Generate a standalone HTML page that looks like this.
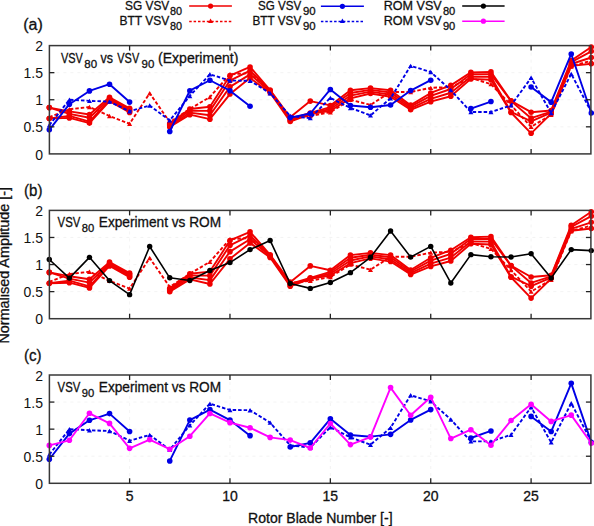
<!DOCTYPE html>
<html><head><meta charset="utf-8"><style>html,body{margin:0;padding:0;background:#fff;width:594px;height:526px;overflow:hidden}svg{display:block;font-family:"Liberation Sans",sans-serif}</style></head>
<body><svg width="594" height="526" viewBox="0 0 594 526" font-family="Liberation Sans, sans-serif" fill="#111">
<rect width="594" height="526" fill="#fff"/>
<line x1="49.4" y1="126.82" x2="590.9" y2="126.82" stroke="#f0f0f0" stroke-width="0.8" stroke-dasharray="3,4"/>
<line x1="49.4" y1="99.75" x2="590.9" y2="99.75" stroke="#f0f0f0" stroke-width="0.8" stroke-dasharray="3,4"/>
<line x1="49.4" y1="72.67" x2="590.9" y2="72.67" stroke="#f0f0f0" stroke-width="0.8" stroke-dasharray="3,4"/>
<line x1="129.60" y1="45.6" x2="129.60" y2="153.9" stroke="#f0f0f0" stroke-width="0.8" stroke-dasharray="3,4"/>
<line x1="229.97" y1="45.6" x2="229.97" y2="153.9" stroke="#f0f0f0" stroke-width="0.8" stroke-dasharray="3,4"/>
<line x1="330.35" y1="45.6" x2="330.35" y2="153.9" stroke="#f0f0f0" stroke-width="0.8" stroke-dasharray="3,4"/>
<line x1="430.73" y1="45.6" x2="430.73" y2="153.9" stroke="#f0f0f0" stroke-width="0.8" stroke-dasharray="3,4"/>
<line x1="531.10" y1="45.6" x2="531.10" y2="153.9" stroke="#f0f0f0" stroke-width="0.8" stroke-dasharray="3,4"/>
<line x1="49.4" y1="291.62" x2="590.9" y2="291.62" stroke="#f0f0f0" stroke-width="0.8" stroke-dasharray="3,4"/>
<line x1="49.4" y1="264.55" x2="590.9" y2="264.55" stroke="#f0f0f0" stroke-width="0.8" stroke-dasharray="3,4"/>
<line x1="49.4" y1="237.47" x2="590.9" y2="237.47" stroke="#f0f0f0" stroke-width="0.8" stroke-dasharray="3,4"/>
<line x1="129.60" y1="210.4" x2="129.60" y2="318.7" stroke="#f0f0f0" stroke-width="0.8" stroke-dasharray="3,4"/>
<line x1="229.97" y1="210.4" x2="229.97" y2="318.7" stroke="#f0f0f0" stroke-width="0.8" stroke-dasharray="3,4"/>
<line x1="330.35" y1="210.4" x2="330.35" y2="318.7" stroke="#f0f0f0" stroke-width="0.8" stroke-dasharray="3,4"/>
<line x1="430.73" y1="210.4" x2="430.73" y2="318.7" stroke="#f0f0f0" stroke-width="0.8" stroke-dasharray="3,4"/>
<line x1="531.10" y1="210.4" x2="531.10" y2="318.7" stroke="#f0f0f0" stroke-width="0.8" stroke-dasharray="3,4"/>
<line x1="49.4" y1="456.23" x2="590.9" y2="456.23" stroke="#f0f0f0" stroke-width="0.8" stroke-dasharray="3,4"/>
<line x1="49.4" y1="429.15" x2="590.9" y2="429.15" stroke="#f0f0f0" stroke-width="0.8" stroke-dasharray="3,4"/>
<line x1="49.4" y1="402.07" x2="590.9" y2="402.07" stroke="#f0f0f0" stroke-width="0.8" stroke-dasharray="3,4"/>
<line x1="129.60" y1="375.0" x2="129.60" y2="483.3" stroke="#f0f0f0" stroke-width="0.8" stroke-dasharray="3,4"/>
<line x1="229.97" y1="375.0" x2="229.97" y2="483.3" stroke="#f0f0f0" stroke-width="0.8" stroke-dasharray="3,4"/>
<line x1="330.35" y1="375.0" x2="330.35" y2="483.3" stroke="#f0f0f0" stroke-width="0.8" stroke-dasharray="3,4"/>
<line x1="430.73" y1="375.0" x2="430.73" y2="483.3" stroke="#f0f0f0" stroke-width="0.8" stroke-dasharray="3,4"/>
<line x1="531.10" y1="375.0" x2="531.10" y2="483.3" stroke="#f0f0f0" stroke-width="0.8" stroke-dasharray="3,4"/>
<path d="M49.30,118.43 L69.38,117.89 L89.45,123.09 L109.52,101.10 L129.60,112.48" fill="none" stroke="#f00000" stroke-width="1.9" stroke-linejoin="round"/>
<path d="M169.75,126.88 L189.82,114.64 L209.90,119.19 L229.97,94.06 L250.05,78.09 L270.12,92.71 L290.20,121.52 L310.27,114.10 L330.35,110.74 L350.43,98.40 L370.50,93.52 L390.57,96.77 L410.65,109.77 L430.73,101.65 L450.80,96.23 L470.88,78.90 L490.95,79.71 L511.02,112.48 L531.10,133.32 L551.17,113.67 L571.25,65.91 L591.32,63.74" fill="none" stroke="#f00000" stroke-width="1.9" stroke-linejoin="round"/>
<circle cx="49.30" cy="118.43" r="2.8" fill="#f00000"/>
<circle cx="69.38" cy="117.89" r="2.8" fill="#f00000"/>
<circle cx="89.45" cy="123.09" r="2.8" fill="#f00000"/>
<circle cx="109.52" cy="101.10" r="2.8" fill="#f00000"/>
<circle cx="129.60" cy="112.48" r="2.8" fill="#f00000"/>
<circle cx="169.75" cy="126.88" r="2.8" fill="#f00000"/>
<circle cx="189.82" cy="114.64" r="2.8" fill="#f00000"/>
<circle cx="209.90" cy="119.19" r="2.8" fill="#f00000"/>
<circle cx="229.97" cy="94.06" r="2.8" fill="#f00000"/>
<circle cx="250.05" cy="78.09" r="2.8" fill="#f00000"/>
<circle cx="270.12" cy="92.71" r="2.8" fill="#f00000"/>
<circle cx="290.20" cy="121.52" r="2.8" fill="#f00000"/>
<circle cx="310.27" cy="114.10" r="2.8" fill="#f00000"/>
<circle cx="330.35" cy="110.74" r="2.8" fill="#f00000"/>
<circle cx="350.43" cy="98.40" r="2.8" fill="#f00000"/>
<circle cx="370.50" cy="93.52" r="2.8" fill="#f00000"/>
<circle cx="390.57" cy="96.77" r="2.8" fill="#f00000"/>
<circle cx="410.65" cy="109.77" r="2.8" fill="#f00000"/>
<circle cx="430.73" cy="101.65" r="2.8" fill="#f00000"/>
<circle cx="450.80" cy="96.23" r="2.8" fill="#f00000"/>
<circle cx="470.88" cy="78.90" r="2.8" fill="#f00000"/>
<circle cx="490.95" cy="79.71" r="2.8" fill="#f00000"/>
<circle cx="511.02" cy="112.48" r="2.8" fill="#f00000"/>
<circle cx="531.10" cy="133.32" r="2.8" fill="#f00000"/>
<circle cx="551.17" cy="113.67" r="2.8" fill="#f00000"/>
<circle cx="571.25" cy="65.91" r="2.8" fill="#f00000"/>
<circle cx="591.32" cy="63.74" r="2.8" fill="#f00000"/>
<path d="M49.30,118.43 L69.38,115.85 L89.45,121.61 L109.52,99.84 L129.60,111.17" fill="none" stroke="#f00000" stroke-width="1.9" stroke-linejoin="round"/>
<path d="M169.75,125.79 L189.82,112.68 L209.90,115.31 L229.97,86.83 L250.05,74.39 L270.12,91.45 L290.20,120.30 L310.27,113.56 L330.35,108.96 L350.43,95.69 L370.50,91.60 L390.57,94.73 L410.65,108.29 L430.73,98.89 L450.80,92.76 L470.88,76.74 L490.95,76.83 L511.02,111.93 L531.10,121.41 L551.17,112.73 L571.25,63.98 L591.32,57.52" fill="none" stroke="#f00000" stroke-width="1.9" stroke-linejoin="round"/>
<circle cx="49.30" cy="118.43" r="2.8" fill="#f00000"/>
<circle cx="69.38" cy="115.85" r="2.8" fill="#f00000"/>
<circle cx="89.45" cy="121.61" r="2.8" fill="#f00000"/>
<circle cx="109.52" cy="99.84" r="2.8" fill="#f00000"/>
<circle cx="129.60" cy="111.17" r="2.8" fill="#f00000"/>
<circle cx="169.75" cy="125.79" r="2.8" fill="#f00000"/>
<circle cx="189.82" cy="112.68" r="2.8" fill="#f00000"/>
<circle cx="209.90" cy="115.31" r="2.8" fill="#f00000"/>
<circle cx="229.97" cy="86.83" r="2.8" fill="#f00000"/>
<circle cx="250.05" cy="74.39" r="2.8" fill="#f00000"/>
<circle cx="270.12" cy="91.45" r="2.8" fill="#f00000"/>
<circle cx="290.20" cy="120.30" r="2.8" fill="#f00000"/>
<circle cx="310.27" cy="113.56" r="2.8" fill="#f00000"/>
<circle cx="330.35" cy="108.96" r="2.8" fill="#f00000"/>
<circle cx="350.43" cy="95.69" r="2.8" fill="#f00000"/>
<circle cx="370.50" cy="91.60" r="2.8" fill="#f00000"/>
<circle cx="390.57" cy="94.73" r="2.8" fill="#f00000"/>
<circle cx="410.65" cy="108.29" r="2.8" fill="#f00000"/>
<circle cx="430.73" cy="98.89" r="2.8" fill="#f00000"/>
<circle cx="450.80" cy="92.76" r="2.8" fill="#f00000"/>
<circle cx="470.88" cy="76.74" r="2.8" fill="#f00000"/>
<circle cx="490.95" cy="76.83" r="2.8" fill="#f00000"/>
<circle cx="511.02" cy="111.93" r="2.8" fill="#f00000"/>
<circle cx="531.10" cy="121.41" r="2.8" fill="#f00000"/>
<circle cx="551.17" cy="112.73" r="2.8" fill="#f00000"/>
<circle cx="571.25" cy="63.98" r="2.8" fill="#f00000"/>
<circle cx="591.32" cy="57.52" r="2.8" fill="#f00000"/>
<path d="M49.30,107.60 L69.38,113.81 L89.45,117.76 L109.52,98.58 L129.60,109.86" fill="none" stroke="#f00000" stroke-width="1.9" stroke-linejoin="round"/>
<path d="M169.75,124.58 L189.82,110.73 L209.90,110.86 L229.97,80.53 L250.05,70.62 L270.12,90.73 L290.20,118.99 L310.27,113.02 L330.35,107.15 L350.43,92.98 L370.50,89.91 L390.57,92.44 L410.65,106.70 L430.73,95.87 L450.80,89.01 L470.88,74.19 L490.95,74.14 L511.02,101.10 L531.10,118.16 L551.17,111.56 L571.25,62.06 L591.32,51.31" fill="none" stroke="#f00000" stroke-width="1.9" stroke-linejoin="round"/>
<circle cx="49.30" cy="107.60" r="2.8" fill="#f00000"/>
<circle cx="69.38" cy="113.81" r="2.8" fill="#f00000"/>
<circle cx="89.45" cy="117.76" r="2.8" fill="#f00000"/>
<circle cx="109.52" cy="98.58" r="2.8" fill="#f00000"/>
<circle cx="129.60" cy="109.86" r="2.8" fill="#f00000"/>
<circle cx="169.75" cy="124.58" r="2.8" fill="#f00000"/>
<circle cx="189.82" cy="110.73" r="2.8" fill="#f00000"/>
<circle cx="209.90" cy="110.86" r="2.8" fill="#f00000"/>
<circle cx="229.97" cy="80.53" r="2.8" fill="#f00000"/>
<circle cx="250.05" cy="70.62" r="2.8" fill="#f00000"/>
<circle cx="270.12" cy="90.73" r="2.8" fill="#f00000"/>
<circle cx="290.20" cy="118.99" r="2.8" fill="#f00000"/>
<circle cx="310.27" cy="113.02" r="2.8" fill="#f00000"/>
<circle cx="330.35" cy="107.15" r="2.8" fill="#f00000"/>
<circle cx="350.43" cy="92.98" r="2.8" fill="#f00000"/>
<circle cx="370.50" cy="89.91" r="2.8" fill="#f00000"/>
<circle cx="390.57" cy="92.44" r="2.8" fill="#f00000"/>
<circle cx="410.65" cy="106.70" r="2.8" fill="#f00000"/>
<circle cx="430.73" cy="95.87" r="2.8" fill="#f00000"/>
<circle cx="450.80" cy="89.01" r="2.8" fill="#f00000"/>
<circle cx="470.88" cy="74.19" r="2.8" fill="#f00000"/>
<circle cx="490.95" cy="74.14" r="2.8" fill="#f00000"/>
<circle cx="511.02" cy="101.10" r="2.8" fill="#f00000"/>
<circle cx="531.10" cy="118.16" r="2.8" fill="#f00000"/>
<circle cx="551.17" cy="111.56" r="2.8" fill="#f00000"/>
<circle cx="571.25" cy="62.06" r="2.8" fill="#f00000"/>
<circle cx="591.32" cy="51.31" r="2.8" fill="#f00000"/>
<path d="M49.30,107.60 L69.38,111.39 L89.45,114.48 L109.52,97.31 L129.60,108.36" fill="none" stroke="#f00000" stroke-width="1.9" stroke-linejoin="round"/>
<path d="M169.75,123.47 L189.82,108.96 L209.90,106.79 L229.97,75.65 L250.05,66.99 L270.12,90.00 L290.20,117.35 L310.27,101.10 L330.35,105.44 L350.43,90.27 L370.50,88.11 L390.57,90.27 L410.65,105.17 L430.73,92.98 L450.80,85.40 L470.88,72.40 L490.95,71.86 L511.02,100.83 L531.10,112.20 L551.17,110.47 L571.25,60.49 L591.32,46.95" fill="none" stroke="#f00000" stroke-width="1.9" stroke-linejoin="round"/>
<circle cx="49.30" cy="107.60" r="2.8" fill="#f00000"/>
<circle cx="69.38" cy="111.39" r="2.8" fill="#f00000"/>
<circle cx="89.45" cy="114.48" r="2.8" fill="#f00000"/>
<circle cx="109.52" cy="97.31" r="2.8" fill="#f00000"/>
<circle cx="129.60" cy="108.36" r="2.8" fill="#f00000"/>
<circle cx="169.75" cy="123.47" r="2.8" fill="#f00000"/>
<circle cx="189.82" cy="108.96" r="2.8" fill="#f00000"/>
<circle cx="209.90" cy="106.79" r="2.8" fill="#f00000"/>
<circle cx="229.97" cy="75.65" r="2.8" fill="#f00000"/>
<circle cx="250.05" cy="66.99" r="2.8" fill="#f00000"/>
<circle cx="270.12" cy="90.00" r="2.8" fill="#f00000"/>
<circle cx="290.20" cy="117.35" r="2.8" fill="#f00000"/>
<circle cx="310.27" cy="101.10" r="2.8" fill="#f00000"/>
<circle cx="330.35" cy="105.44" r="2.8" fill="#f00000"/>
<circle cx="350.43" cy="90.27" r="2.8" fill="#f00000"/>
<circle cx="370.50" cy="88.11" r="2.8" fill="#f00000"/>
<circle cx="390.57" cy="90.27" r="2.8" fill="#f00000"/>
<circle cx="410.65" cy="105.17" r="2.8" fill="#f00000"/>
<circle cx="430.73" cy="92.98" r="2.8" fill="#f00000"/>
<circle cx="450.80" cy="85.40" r="2.8" fill="#f00000"/>
<circle cx="470.88" cy="72.40" r="2.8" fill="#f00000"/>
<circle cx="490.95" cy="71.86" r="2.8" fill="#f00000"/>
<circle cx="511.02" cy="100.83" r="2.8" fill="#f00000"/>
<circle cx="531.10" cy="112.20" r="2.8" fill="#f00000"/>
<circle cx="551.17" cy="110.47" r="2.8" fill="#f00000"/>
<circle cx="571.25" cy="60.49" r="2.8" fill="#f00000"/>
<circle cx="591.32" cy="46.95" r="2.8" fill="#f00000"/>
<path d="M49.30,117.08 L69.38,109.23 L89.45,107.01 L109.52,116.00 L129.60,123.74 L149.68,93.25 L169.75,122.11 L189.82,108.96 L209.90,97.04 L229.97,74.30 L250.05,73.22 L270.12,90.92 L290.20,118.16 L310.27,116.00 L330.35,112.20 L350.43,99.75 L370.50,104.89 L390.57,92.01 L410.65,92.01 L430.73,87.84 L450.80,86.97 L470.88,78.09 L490.95,84.05 L511.02,105.17 L531.10,126.82 L551.17,114.91 L571.25,66.18 L591.32,60.76" fill="none" stroke="#f00000" stroke-width="1.9" stroke-dasharray="3.5,2" stroke-linejoin="round"/>
<path d="M46.80,119.28 L51.80,119.28 L49.30,114.88 Z" fill="#f00000"/>
<path d="M66.88,111.43 L71.88,111.43 L69.38,107.03 Z" fill="#f00000"/>
<path d="M86.95,109.21 L91.95,109.21 L89.45,104.81 Z" fill="#f00000"/>
<path d="M107.02,118.20 L112.02,118.20 L109.52,113.80 Z" fill="#f00000"/>
<path d="M127.10,125.94 L132.10,125.94 L129.60,121.54 Z" fill="#f00000"/>
<path d="M147.18,95.45 L152.18,95.45 L149.68,91.05 Z" fill="#f00000"/>
<path d="M167.25,124.31 L172.25,124.31 L169.75,119.91 Z" fill="#f00000"/>
<path d="M187.32,111.16 L192.32,111.16 L189.82,106.76 Z" fill="#f00000"/>
<path d="M207.40,99.24 L212.40,99.24 L209.90,94.84 Z" fill="#f00000"/>
<path d="M227.47,76.50 L232.47,76.50 L229.97,72.10 Z" fill="#f00000"/>
<path d="M247.55,75.42 L252.55,75.42 L250.05,71.02 Z" fill="#f00000"/>
<path d="M267.62,93.12 L272.62,93.12 L270.12,88.72 Z" fill="#f00000"/>
<path d="M287.70,120.36 L292.70,120.36 L290.20,115.96 Z" fill="#f00000"/>
<path d="M307.77,118.20 L312.77,118.20 L310.27,113.80 Z" fill="#f00000"/>
<path d="M327.85,114.40 L332.85,114.40 L330.35,110.00 Z" fill="#f00000"/>
<path d="M347.93,101.95 L352.93,101.95 L350.43,97.55 Z" fill="#f00000"/>
<path d="M368.00,107.09 L373.00,107.09 L370.50,102.69 Z" fill="#f00000"/>
<path d="M388.07,94.21 L393.07,94.21 L390.57,89.81 Z" fill="#f00000"/>
<path d="M408.15,94.21 L413.15,94.21 L410.65,89.81 Z" fill="#f00000"/>
<path d="M428.23,90.04 L433.23,90.04 L430.73,85.64 Z" fill="#f00000"/>
<path d="M448.30,89.17 L453.30,89.17 L450.80,84.77 Z" fill="#f00000"/>
<path d="M468.38,80.29 L473.38,80.29 L470.88,75.89 Z" fill="#f00000"/>
<path d="M488.45,86.25 L493.45,86.25 L490.95,81.85 Z" fill="#f00000"/>
<path d="M508.52,107.37 L513.52,107.37 L511.02,102.97 Z" fill="#f00000"/>
<path d="M528.60,129.02 L533.60,129.02 L531.10,124.62 Z" fill="#f00000"/>
<path d="M548.67,117.11 L553.67,117.11 L551.17,112.71 Z" fill="#f00000"/>
<path d="M568.75,68.38 L573.75,68.38 L571.25,63.98 Z" fill="#f00000"/>
<path d="M588.82,62.96 L593.82,62.96 L591.32,58.56 Z" fill="#f00000"/>
<path d="M49.30,129.86 L69.38,104.19 L89.45,90.92 L109.52,84.21 L129.60,102.08" fill="none" stroke="#0000e6" stroke-width="1.9" stroke-linejoin="round"/>
<path d="M169.75,131.54 L189.82,90.71 L209.90,80.26 L229.97,90.71 L250.05,106.25" fill="none" stroke="#0000e6" stroke-width="1.9" stroke-linejoin="round"/>
<path d="M290.20,117.62 L310.27,113.50 L330.35,89.46 L350.43,105.54 L370.50,107.28 L390.57,104.95 L410.65,90.54 L430.73,80.20" fill="none" stroke="#0000e6" stroke-width="1.9" stroke-linejoin="round"/>
<path d="M470.88,108.58 L490.95,101.54" fill="none" stroke="#0000e6" stroke-width="1.9" stroke-linejoin="round"/>
<path d="M531.10,87.02 L551.17,102.13 L571.25,53.94 L591.32,112.96" fill="none" stroke="#0000e6" stroke-width="1.9" stroke-linejoin="round"/>
<circle cx="49.30" cy="129.86" r="2.8" fill="#0000e6"/>
<circle cx="69.38" cy="104.19" r="2.8" fill="#0000e6"/>
<circle cx="89.45" cy="90.92" r="2.8" fill="#0000e6"/>
<circle cx="109.52" cy="84.21" r="2.8" fill="#0000e6"/>
<circle cx="129.60" cy="102.08" r="2.8" fill="#0000e6"/>
<circle cx="169.75" cy="131.54" r="2.8" fill="#0000e6"/>
<circle cx="189.82" cy="90.71" r="2.8" fill="#0000e6"/>
<circle cx="209.90" cy="80.26" r="2.8" fill="#0000e6"/>
<circle cx="229.97" cy="90.71" r="2.8" fill="#0000e6"/>
<circle cx="250.05" cy="106.25" r="2.8" fill="#0000e6"/>
<circle cx="290.20" cy="117.62" r="2.8" fill="#0000e6"/>
<circle cx="310.27" cy="113.50" r="2.8" fill="#0000e6"/>
<circle cx="330.35" cy="89.46" r="2.8" fill="#0000e6"/>
<circle cx="350.43" cy="105.54" r="2.8" fill="#0000e6"/>
<circle cx="370.50" cy="107.28" r="2.8" fill="#0000e6"/>
<circle cx="390.57" cy="104.95" r="2.8" fill="#0000e6"/>
<circle cx="410.65" cy="90.54" r="2.8" fill="#0000e6"/>
<circle cx="430.73" cy="80.20" r="2.8" fill="#0000e6"/>
<circle cx="470.88" cy="108.58" r="2.8" fill="#0000e6"/>
<circle cx="490.95" cy="101.54" r="2.8" fill="#0000e6"/>
<circle cx="531.10" cy="87.02" r="2.8" fill="#0000e6"/>
<circle cx="551.17" cy="102.13" r="2.8" fill="#0000e6"/>
<circle cx="571.25" cy="53.94" r="2.8" fill="#0000e6"/>
<circle cx="591.32" cy="112.96" r="2.8" fill="#0000e6"/>
<path d="M49.30,125.20 L69.38,99.75 L89.45,100.83 L109.52,101.65 L129.60,111.28 L149.68,105.54 L169.75,120.33 L189.82,95.96 L209.90,74.30 L229.97,80.58 L250.05,80.80 L270.12,93.25 L290.20,116.00 L310.27,118.16 L330.35,97.85 L350.43,107.98 L370.50,115.35 L390.57,98.34 L410.65,65.85 L430.73,71.97 L450.80,90.11 L470.88,111.99 L490.95,111.99 L511.02,105.38 L531.10,77.82 L551.17,112.96 L571.25,73.87 L591.32,111.99" fill="none" stroke="#0000e6" stroke-width="1.9" stroke-dasharray="3.5,2" stroke-linejoin="round"/>
<path d="M46.80,127.40 L51.80,127.40 L49.30,123.00 Z" fill="#0000e6"/>
<path d="M66.88,101.95 L71.88,101.95 L69.38,97.55 Z" fill="#0000e6"/>
<path d="M86.95,103.03 L91.95,103.03 L89.45,98.63 Z" fill="#0000e6"/>
<path d="M107.02,103.85 L112.02,103.85 L109.52,99.45 Z" fill="#0000e6"/>
<path d="M127.10,113.48 L132.10,113.48 L129.60,109.08 Z" fill="#0000e6"/>
<path d="M147.18,107.74 L152.18,107.74 L149.68,103.34 Z" fill="#0000e6"/>
<path d="M167.25,122.53 L172.25,122.53 L169.75,118.13 Z" fill="#0000e6"/>
<path d="M187.32,98.16 L192.32,98.16 L189.82,93.76 Z" fill="#0000e6"/>
<path d="M207.40,76.50 L212.40,76.50 L209.90,72.10 Z" fill="#0000e6"/>
<path d="M227.47,82.78 L232.47,82.78 L229.97,78.38 Z" fill="#0000e6"/>
<path d="M247.55,83.00 L252.55,83.00 L250.05,78.60 Z" fill="#0000e6"/>
<path d="M267.62,95.45 L272.62,95.45 L270.12,91.05 Z" fill="#0000e6"/>
<path d="M287.70,118.20 L292.70,118.20 L290.20,113.80 Z" fill="#0000e6"/>
<path d="M307.77,120.36 L312.77,120.36 L310.27,115.96 Z" fill="#0000e6"/>
<path d="M327.85,100.05 L332.85,100.05 L330.35,95.65 Z" fill="#0000e6"/>
<path d="M347.93,110.18 L352.93,110.18 L350.43,105.78 Z" fill="#0000e6"/>
<path d="M368.00,117.55 L373.00,117.55 L370.50,113.15 Z" fill="#0000e6"/>
<path d="M388.07,100.54 L393.07,100.54 L390.57,96.14 Z" fill="#0000e6"/>
<path d="M408.15,68.05 L413.15,68.05 L410.65,63.65 Z" fill="#0000e6"/>
<path d="M428.23,74.17 L433.23,74.17 L430.73,69.77 Z" fill="#0000e6"/>
<path d="M448.30,92.31 L453.30,92.31 L450.80,87.91 Z" fill="#0000e6"/>
<path d="M468.38,114.19 L473.38,114.19 L470.88,109.79 Z" fill="#0000e6"/>
<path d="M488.45,114.19 L493.45,114.19 L490.95,109.79 Z" fill="#0000e6"/>
<path d="M508.52,107.58 L513.52,107.58 L511.02,103.18 Z" fill="#0000e6"/>
<path d="M528.60,80.02 L533.60,80.02 L531.10,75.62 Z" fill="#0000e6"/>
<path d="M548.67,115.16 L553.67,115.16 L551.17,110.76 Z" fill="#0000e6"/>
<path d="M568.75,76.07 L573.75,76.07 L571.25,71.67 Z" fill="#0000e6"/>
<path d="M588.82,114.19 L593.82,114.19 L591.32,109.79 Z" fill="#0000e6"/>
<path d="M49.30,283.23 L69.38,282.69 L89.45,287.89 L109.52,265.90 L129.60,277.28" fill="none" stroke="#f00000" stroke-width="1.9" stroke-linejoin="round"/>
<path d="M169.75,291.68 L189.82,279.44 L209.90,283.99 L229.97,258.86 L250.05,242.89 L270.12,257.51 L290.20,286.32 L310.27,278.90 L330.35,275.54 L350.43,263.20 L370.50,258.32 L390.57,261.57 L410.65,274.57 L430.73,266.45 L450.80,261.03 L470.88,243.70 L490.95,244.51 L511.02,277.28 L531.10,298.12 L551.17,278.47 L571.25,230.71 L591.32,228.54" fill="none" stroke="#f00000" stroke-width="1.9" stroke-linejoin="round"/>
<circle cx="49.30" cy="283.23" r="2.8" fill="#f00000"/>
<circle cx="69.38" cy="282.69" r="2.8" fill="#f00000"/>
<circle cx="89.45" cy="287.89" r="2.8" fill="#f00000"/>
<circle cx="109.52" cy="265.90" r="2.8" fill="#f00000"/>
<circle cx="129.60" cy="277.28" r="2.8" fill="#f00000"/>
<circle cx="169.75" cy="291.68" r="2.8" fill="#f00000"/>
<circle cx="189.82" cy="279.44" r="2.8" fill="#f00000"/>
<circle cx="209.90" cy="283.99" r="2.8" fill="#f00000"/>
<circle cx="229.97" cy="258.86" r="2.8" fill="#f00000"/>
<circle cx="250.05" cy="242.89" r="2.8" fill="#f00000"/>
<circle cx="270.12" cy="257.51" r="2.8" fill="#f00000"/>
<circle cx="290.20" cy="286.32" r="2.8" fill="#f00000"/>
<circle cx="310.27" cy="278.90" r="2.8" fill="#f00000"/>
<circle cx="330.35" cy="275.54" r="2.8" fill="#f00000"/>
<circle cx="350.43" cy="263.20" r="2.8" fill="#f00000"/>
<circle cx="370.50" cy="258.32" r="2.8" fill="#f00000"/>
<circle cx="390.57" cy="261.57" r="2.8" fill="#f00000"/>
<circle cx="410.65" cy="274.57" r="2.8" fill="#f00000"/>
<circle cx="430.73" cy="266.45" r="2.8" fill="#f00000"/>
<circle cx="450.80" cy="261.03" r="2.8" fill="#f00000"/>
<circle cx="470.88" cy="243.70" r="2.8" fill="#f00000"/>
<circle cx="490.95" cy="244.51" r="2.8" fill="#f00000"/>
<circle cx="511.02" cy="277.28" r="2.8" fill="#f00000"/>
<circle cx="531.10" cy="298.12" r="2.8" fill="#f00000"/>
<circle cx="551.17" cy="278.47" r="2.8" fill="#f00000"/>
<circle cx="571.25" cy="230.71" r="2.8" fill="#f00000"/>
<circle cx="591.32" cy="228.54" r="2.8" fill="#f00000"/>
<path d="M49.30,283.23 L69.38,280.65 L89.45,286.41 L109.52,264.64 L129.60,275.97" fill="none" stroke="#f00000" stroke-width="1.9" stroke-linejoin="round"/>
<path d="M169.75,290.59 L189.82,277.48 L209.90,280.11 L229.97,251.63 L250.05,239.19 L270.12,256.25 L290.20,285.10 L310.27,278.36 L330.35,273.76 L350.43,260.49 L370.50,256.40 L390.57,259.53 L410.65,273.09 L430.73,263.69 L450.80,257.56 L470.88,241.54 L490.95,241.63 L511.02,276.73 L531.10,286.21 L551.17,277.53 L571.25,228.78 L591.32,222.32" fill="none" stroke="#f00000" stroke-width="1.9" stroke-linejoin="round"/>
<circle cx="49.30" cy="283.23" r="2.8" fill="#f00000"/>
<circle cx="69.38" cy="280.65" r="2.8" fill="#f00000"/>
<circle cx="89.45" cy="286.41" r="2.8" fill="#f00000"/>
<circle cx="109.52" cy="264.64" r="2.8" fill="#f00000"/>
<circle cx="129.60" cy="275.97" r="2.8" fill="#f00000"/>
<circle cx="169.75" cy="290.59" r="2.8" fill="#f00000"/>
<circle cx="189.82" cy="277.48" r="2.8" fill="#f00000"/>
<circle cx="209.90" cy="280.11" r="2.8" fill="#f00000"/>
<circle cx="229.97" cy="251.63" r="2.8" fill="#f00000"/>
<circle cx="250.05" cy="239.19" r="2.8" fill="#f00000"/>
<circle cx="270.12" cy="256.25" r="2.8" fill="#f00000"/>
<circle cx="290.20" cy="285.10" r="2.8" fill="#f00000"/>
<circle cx="310.27" cy="278.36" r="2.8" fill="#f00000"/>
<circle cx="330.35" cy="273.76" r="2.8" fill="#f00000"/>
<circle cx="350.43" cy="260.49" r="2.8" fill="#f00000"/>
<circle cx="370.50" cy="256.40" r="2.8" fill="#f00000"/>
<circle cx="390.57" cy="259.53" r="2.8" fill="#f00000"/>
<circle cx="410.65" cy="273.09" r="2.8" fill="#f00000"/>
<circle cx="430.73" cy="263.69" r="2.8" fill="#f00000"/>
<circle cx="450.80" cy="257.56" r="2.8" fill="#f00000"/>
<circle cx="470.88" cy="241.54" r="2.8" fill="#f00000"/>
<circle cx="490.95" cy="241.63" r="2.8" fill="#f00000"/>
<circle cx="511.02" cy="276.73" r="2.8" fill="#f00000"/>
<circle cx="531.10" cy="286.21" r="2.8" fill="#f00000"/>
<circle cx="551.17" cy="277.53" r="2.8" fill="#f00000"/>
<circle cx="571.25" cy="228.78" r="2.8" fill="#f00000"/>
<circle cx="591.32" cy="222.32" r="2.8" fill="#f00000"/>
<path d="M49.30,272.40 L69.38,278.61 L89.45,282.56 L109.52,263.38 L129.60,274.66" fill="none" stroke="#f00000" stroke-width="1.9" stroke-linejoin="round"/>
<path d="M169.75,289.38 L189.82,275.53 L209.90,275.66 L229.97,245.33 L250.05,235.42 L270.12,255.53 L290.20,283.79 L310.27,277.82 L330.35,271.95 L350.43,257.78 L370.50,254.71 L390.57,257.24 L410.65,271.50 L430.73,260.67 L450.80,253.81 L470.88,238.99 L490.95,238.94 L511.02,265.90 L531.10,282.96 L551.17,276.36 L571.25,226.86 L591.32,216.11" fill="none" stroke="#f00000" stroke-width="1.9" stroke-linejoin="round"/>
<circle cx="49.30" cy="272.40" r="2.8" fill="#f00000"/>
<circle cx="69.38" cy="278.61" r="2.8" fill="#f00000"/>
<circle cx="89.45" cy="282.56" r="2.8" fill="#f00000"/>
<circle cx="109.52" cy="263.38" r="2.8" fill="#f00000"/>
<circle cx="129.60" cy="274.66" r="2.8" fill="#f00000"/>
<circle cx="169.75" cy="289.38" r="2.8" fill="#f00000"/>
<circle cx="189.82" cy="275.53" r="2.8" fill="#f00000"/>
<circle cx="209.90" cy="275.66" r="2.8" fill="#f00000"/>
<circle cx="229.97" cy="245.33" r="2.8" fill="#f00000"/>
<circle cx="250.05" cy="235.42" r="2.8" fill="#f00000"/>
<circle cx="270.12" cy="255.53" r="2.8" fill="#f00000"/>
<circle cx="290.20" cy="283.79" r="2.8" fill="#f00000"/>
<circle cx="310.27" cy="277.82" r="2.8" fill="#f00000"/>
<circle cx="330.35" cy="271.95" r="2.8" fill="#f00000"/>
<circle cx="350.43" cy="257.78" r="2.8" fill="#f00000"/>
<circle cx="370.50" cy="254.71" r="2.8" fill="#f00000"/>
<circle cx="390.57" cy="257.24" r="2.8" fill="#f00000"/>
<circle cx="410.65" cy="271.50" r="2.8" fill="#f00000"/>
<circle cx="430.73" cy="260.67" r="2.8" fill="#f00000"/>
<circle cx="450.80" cy="253.81" r="2.8" fill="#f00000"/>
<circle cx="470.88" cy="238.99" r="2.8" fill="#f00000"/>
<circle cx="490.95" cy="238.94" r="2.8" fill="#f00000"/>
<circle cx="511.02" cy="265.90" r="2.8" fill="#f00000"/>
<circle cx="531.10" cy="282.96" r="2.8" fill="#f00000"/>
<circle cx="551.17" cy="276.36" r="2.8" fill="#f00000"/>
<circle cx="571.25" cy="226.86" r="2.8" fill="#f00000"/>
<circle cx="591.32" cy="216.11" r="2.8" fill="#f00000"/>
<path d="M49.30,272.40 L69.38,276.19 L89.45,279.28 L109.52,262.11 L129.60,273.16" fill="none" stroke="#f00000" stroke-width="1.9" stroke-linejoin="round"/>
<path d="M169.75,288.27 L189.82,273.76 L209.90,271.59 L229.97,240.45 L250.05,231.79 L270.12,254.80 L290.20,282.15 L310.27,265.90 L330.35,270.24 L350.43,255.07 L370.50,252.91 L390.57,255.07 L410.65,269.97 L430.73,257.78 L450.80,250.20 L470.88,237.20 L490.95,236.66 L511.02,265.63 L531.10,277.00 L551.17,275.27 L571.25,225.29 L591.32,211.75" fill="none" stroke="#f00000" stroke-width="1.9" stroke-linejoin="round"/>
<circle cx="49.30" cy="272.40" r="2.8" fill="#f00000"/>
<circle cx="69.38" cy="276.19" r="2.8" fill="#f00000"/>
<circle cx="89.45" cy="279.28" r="2.8" fill="#f00000"/>
<circle cx="109.52" cy="262.11" r="2.8" fill="#f00000"/>
<circle cx="129.60" cy="273.16" r="2.8" fill="#f00000"/>
<circle cx="169.75" cy="288.27" r="2.8" fill="#f00000"/>
<circle cx="189.82" cy="273.76" r="2.8" fill="#f00000"/>
<circle cx="209.90" cy="271.59" r="2.8" fill="#f00000"/>
<circle cx="229.97" cy="240.45" r="2.8" fill="#f00000"/>
<circle cx="250.05" cy="231.79" r="2.8" fill="#f00000"/>
<circle cx="270.12" cy="254.80" r="2.8" fill="#f00000"/>
<circle cx="290.20" cy="282.15" r="2.8" fill="#f00000"/>
<circle cx="310.27" cy="265.90" r="2.8" fill="#f00000"/>
<circle cx="330.35" cy="270.24" r="2.8" fill="#f00000"/>
<circle cx="350.43" cy="255.07" r="2.8" fill="#f00000"/>
<circle cx="370.50" cy="252.91" r="2.8" fill="#f00000"/>
<circle cx="390.57" cy="255.07" r="2.8" fill="#f00000"/>
<circle cx="410.65" cy="269.97" r="2.8" fill="#f00000"/>
<circle cx="430.73" cy="257.78" r="2.8" fill="#f00000"/>
<circle cx="450.80" cy="250.20" r="2.8" fill="#f00000"/>
<circle cx="470.88" cy="237.20" r="2.8" fill="#f00000"/>
<circle cx="490.95" cy="236.66" r="2.8" fill="#f00000"/>
<circle cx="511.02" cy="265.63" r="2.8" fill="#f00000"/>
<circle cx="531.10" cy="277.00" r="2.8" fill="#f00000"/>
<circle cx="551.17" cy="275.27" r="2.8" fill="#f00000"/>
<circle cx="571.25" cy="225.29" r="2.8" fill="#f00000"/>
<circle cx="591.32" cy="211.75" r="2.8" fill="#f00000"/>
<path d="M49.30,281.88 L69.38,274.03 L89.45,271.81 L109.52,280.80 L129.60,288.54 L149.68,258.05 L169.75,286.91 L189.82,273.76 L209.90,261.84 L229.97,239.10 L250.05,238.02 L270.12,255.72 L290.20,282.96 L310.27,280.80 L330.35,277.00 L350.43,264.55 L370.50,269.69 L390.57,256.81 L410.65,256.81 L430.73,252.64 L450.80,251.77 L470.88,242.89 L490.95,248.85 L511.02,269.97 L531.10,291.62 L551.17,279.71 L571.25,230.98 L591.32,225.56" fill="none" stroke="#f00000" stroke-width="1.9" stroke-dasharray="3.5,2" stroke-linejoin="round"/>
<path d="M46.80,284.08 L51.80,284.08 L49.30,279.68 Z" fill="#f00000"/>
<path d="M66.88,276.23 L71.88,276.23 L69.38,271.83 Z" fill="#f00000"/>
<path d="M86.95,274.01 L91.95,274.01 L89.45,269.61 Z" fill="#f00000"/>
<path d="M107.02,283.00 L112.02,283.00 L109.52,278.60 Z" fill="#f00000"/>
<path d="M127.10,290.74 L132.10,290.74 L129.60,286.34 Z" fill="#f00000"/>
<path d="M147.18,260.25 L152.18,260.25 L149.68,255.85 Z" fill="#f00000"/>
<path d="M167.25,289.11 L172.25,289.11 L169.75,284.71 Z" fill="#f00000"/>
<path d="M187.32,275.96 L192.32,275.96 L189.82,271.56 Z" fill="#f00000"/>
<path d="M207.40,264.04 L212.40,264.04 L209.90,259.64 Z" fill="#f00000"/>
<path d="M227.47,241.30 L232.47,241.30 L229.97,236.90 Z" fill="#f00000"/>
<path d="M247.55,240.22 L252.55,240.22 L250.05,235.82 Z" fill="#f00000"/>
<path d="M267.62,257.92 L272.62,257.92 L270.12,253.52 Z" fill="#f00000"/>
<path d="M287.70,285.16 L292.70,285.16 L290.20,280.76 Z" fill="#f00000"/>
<path d="M307.77,283.00 L312.77,283.00 L310.27,278.60 Z" fill="#f00000"/>
<path d="M327.85,279.20 L332.85,279.20 L330.35,274.80 Z" fill="#f00000"/>
<path d="M347.93,266.75 L352.93,266.75 L350.43,262.35 Z" fill="#f00000"/>
<path d="M368.00,271.89 L373.00,271.89 L370.50,267.49 Z" fill="#f00000"/>
<path d="M388.07,259.01 L393.07,259.01 L390.57,254.61 Z" fill="#f00000"/>
<path d="M408.15,259.01 L413.15,259.01 L410.65,254.61 Z" fill="#f00000"/>
<path d="M428.23,254.84 L433.23,254.84 L430.73,250.44 Z" fill="#f00000"/>
<path d="M448.30,253.97 L453.30,253.97 L450.80,249.57 Z" fill="#f00000"/>
<path d="M468.38,245.09 L473.38,245.09 L470.88,240.69 Z" fill="#f00000"/>
<path d="M488.45,251.05 L493.45,251.05 L490.95,246.65 Z" fill="#f00000"/>
<path d="M508.52,272.17 L513.52,272.17 L511.02,267.77 Z" fill="#f00000"/>
<path d="M528.60,293.82 L533.60,293.82 L531.10,289.43 Z" fill="#f00000"/>
<path d="M548.67,281.91 L553.67,281.91 L551.17,277.51 Z" fill="#f00000"/>
<path d="M568.75,233.18 L573.75,233.18 L571.25,228.78 Z" fill="#f00000"/>
<path d="M588.82,227.76 L593.82,227.76 L591.32,223.36 Z" fill="#f00000"/>
<path d="M49.30,259.51 L69.38,278.09 L89.45,257.35 L109.52,280.58 L129.60,294.66 L149.68,246.52 L169.75,277.82 L189.82,280.52 L209.90,270.51 L229.97,262.60 L250.05,249.60 L270.12,240.45 L290.20,283.50 L310.27,288.38 L330.35,282.53 L350.43,272.67 L370.50,257.29 L390.57,230.98 L410.65,257.08 L430.73,246.41 L450.80,282.96 L470.88,254.64 L490.95,256.70 L511.02,256.97 L531.10,253.72 L551.17,278.09 L571.25,249.60 L591.32,250.58" fill="none" stroke="#000000" stroke-width="1.6" stroke-linejoin="round"/>
<circle cx="49.30" cy="259.51" r="2.7" fill="#000000"/>
<circle cx="69.38" cy="278.09" r="2.7" fill="#000000"/>
<circle cx="89.45" cy="257.35" r="2.7" fill="#000000"/>
<circle cx="109.52" cy="280.58" r="2.7" fill="#000000"/>
<circle cx="129.60" cy="294.66" r="2.7" fill="#000000"/>
<circle cx="149.68" cy="246.52" r="2.7" fill="#000000"/>
<circle cx="169.75" cy="277.82" r="2.7" fill="#000000"/>
<circle cx="189.82" cy="280.52" r="2.7" fill="#000000"/>
<circle cx="209.90" cy="270.51" r="2.7" fill="#000000"/>
<circle cx="229.97" cy="262.60" r="2.7" fill="#000000"/>
<circle cx="250.05" cy="249.60" r="2.7" fill="#000000"/>
<circle cx="270.12" cy="240.45" r="2.7" fill="#000000"/>
<circle cx="290.20" cy="283.50" r="2.7" fill="#000000"/>
<circle cx="310.27" cy="288.38" r="2.7" fill="#000000"/>
<circle cx="330.35" cy="282.53" r="2.7" fill="#000000"/>
<circle cx="350.43" cy="272.67" r="2.7" fill="#000000"/>
<circle cx="370.50" cy="257.29" r="2.7" fill="#000000"/>
<circle cx="390.57" cy="230.98" r="2.7" fill="#000000"/>
<circle cx="410.65" cy="257.08" r="2.7" fill="#000000"/>
<circle cx="430.73" cy="246.41" r="2.7" fill="#000000"/>
<circle cx="450.80" cy="282.96" r="2.7" fill="#000000"/>
<circle cx="470.88" cy="254.64" r="2.7" fill="#000000"/>
<circle cx="490.95" cy="256.70" r="2.7" fill="#000000"/>
<circle cx="511.02" cy="256.97" r="2.7" fill="#000000"/>
<circle cx="531.10" cy="253.72" r="2.7" fill="#000000"/>
<circle cx="551.17" cy="278.09" r="2.7" fill="#000000"/>
<circle cx="571.25" cy="249.60" r="2.7" fill="#000000"/>
<circle cx="591.32" cy="250.58" r="2.7" fill="#000000"/>
<path d="M49.30,459.26 L69.38,433.59 L89.45,420.32 L109.52,413.61 L129.60,431.48" fill="none" stroke="#0000e6" stroke-width="1.9" stroke-linejoin="round"/>
<path d="M169.75,460.94 L189.82,420.11 L209.90,409.66 L229.97,420.11 L250.05,435.65" fill="none" stroke="#0000e6" stroke-width="1.9" stroke-linejoin="round"/>
<path d="M290.20,447.02 L310.27,442.90 L330.35,418.86 L350.43,434.94 L370.50,436.68 L390.57,434.35 L410.65,419.94 L430.73,409.60" fill="none" stroke="#0000e6" stroke-width="1.9" stroke-linejoin="round"/>
<path d="M470.88,437.98 L490.95,430.94" fill="none" stroke="#0000e6" stroke-width="1.9" stroke-linejoin="round"/>
<path d="M531.10,416.42 L551.17,431.53 L571.25,383.34 L591.32,442.36" fill="none" stroke="#0000e6" stroke-width="1.9" stroke-linejoin="round"/>
<circle cx="49.30" cy="459.26" r="2.8" fill="#0000e6"/>
<circle cx="69.38" cy="433.59" r="2.8" fill="#0000e6"/>
<circle cx="89.45" cy="420.32" r="2.8" fill="#0000e6"/>
<circle cx="109.52" cy="413.61" r="2.8" fill="#0000e6"/>
<circle cx="129.60" cy="431.48" r="2.8" fill="#0000e6"/>
<circle cx="169.75" cy="460.94" r="2.8" fill="#0000e6"/>
<circle cx="189.82" cy="420.11" r="2.8" fill="#0000e6"/>
<circle cx="209.90" cy="409.66" r="2.8" fill="#0000e6"/>
<circle cx="229.97" cy="420.11" r="2.8" fill="#0000e6"/>
<circle cx="250.05" cy="435.65" r="2.8" fill="#0000e6"/>
<circle cx="290.20" cy="447.02" r="2.8" fill="#0000e6"/>
<circle cx="310.27" cy="442.90" r="2.8" fill="#0000e6"/>
<circle cx="330.35" cy="418.86" r="2.8" fill="#0000e6"/>
<circle cx="350.43" cy="434.94" r="2.8" fill="#0000e6"/>
<circle cx="370.50" cy="436.68" r="2.8" fill="#0000e6"/>
<circle cx="390.57" cy="434.35" r="2.8" fill="#0000e6"/>
<circle cx="410.65" cy="419.94" r="2.8" fill="#0000e6"/>
<circle cx="430.73" cy="409.60" r="2.8" fill="#0000e6"/>
<circle cx="470.88" cy="437.98" r="2.8" fill="#0000e6"/>
<circle cx="490.95" cy="430.94" r="2.8" fill="#0000e6"/>
<circle cx="531.10" cy="416.42" r="2.8" fill="#0000e6"/>
<circle cx="551.17" cy="431.53" r="2.8" fill="#0000e6"/>
<circle cx="571.25" cy="383.34" r="2.8" fill="#0000e6"/>
<circle cx="591.32" cy="442.36" r="2.8" fill="#0000e6"/>
<path d="M49.30,454.60 L69.38,429.15 L89.45,430.23 L109.52,431.05 L129.60,440.68 L149.68,434.94 L169.75,449.73 L189.82,425.36 L209.90,403.70 L229.97,409.98 L250.05,410.20 L270.12,422.65 L290.20,445.39 L310.27,447.56 L330.35,427.25 L350.43,437.38 L370.50,444.75 L390.57,427.74 L410.65,395.25 L430.73,401.37 L450.80,419.51 L470.88,441.39 L490.95,441.39 L511.02,434.78 L531.10,407.22 L551.17,442.36 L571.25,403.27 L591.32,441.39" fill="none" stroke="#0000e6" stroke-width="1.9" stroke-dasharray="3.5,2" stroke-linejoin="round"/>
<path d="M46.80,456.80 L51.80,456.80 L49.30,452.40 Z" fill="#0000e6"/>
<path d="M66.88,431.35 L71.88,431.35 L69.38,426.95 Z" fill="#0000e6"/>
<path d="M86.95,432.43 L91.95,432.43 L89.45,428.03 Z" fill="#0000e6"/>
<path d="M107.02,433.25 L112.02,433.25 L109.52,428.85 Z" fill="#0000e6"/>
<path d="M127.10,442.88 L132.10,442.88 L129.60,438.48 Z" fill="#0000e6"/>
<path d="M147.18,437.14 L152.18,437.14 L149.68,432.74 Z" fill="#0000e6"/>
<path d="M167.25,451.93 L172.25,451.93 L169.75,447.53 Z" fill="#0000e6"/>
<path d="M187.32,427.56 L192.32,427.56 L189.82,423.16 Z" fill="#0000e6"/>
<path d="M207.40,405.90 L212.40,405.90 L209.90,401.50 Z" fill="#0000e6"/>
<path d="M227.47,412.18 L232.47,412.18 L229.97,407.78 Z" fill="#0000e6"/>
<path d="M247.55,412.40 L252.55,412.40 L250.05,408.00 Z" fill="#0000e6"/>
<path d="M267.62,424.85 L272.62,424.85 L270.12,420.45 Z" fill="#0000e6"/>
<path d="M287.70,447.59 L292.70,447.59 L290.20,443.19 Z" fill="#0000e6"/>
<path d="M307.77,449.76 L312.77,449.76 L310.27,445.36 Z" fill="#0000e6"/>
<path d="M327.85,429.45 L332.85,429.45 L330.35,425.05 Z" fill="#0000e6"/>
<path d="M347.93,439.58 L352.93,439.58 L350.43,435.18 Z" fill="#0000e6"/>
<path d="M368.00,446.95 L373.00,446.95 L370.50,442.55 Z" fill="#0000e6"/>
<path d="M388.07,429.94 L393.07,429.94 L390.57,425.54 Z" fill="#0000e6"/>
<path d="M408.15,397.45 L413.15,397.45 L410.65,393.05 Z" fill="#0000e6"/>
<path d="M428.23,403.57 L433.23,403.57 L430.73,399.17 Z" fill="#0000e6"/>
<path d="M448.30,421.71 L453.30,421.71 L450.80,417.31 Z" fill="#0000e6"/>
<path d="M468.38,443.59 L473.38,443.59 L470.88,439.19 Z" fill="#0000e6"/>
<path d="M488.45,443.59 L493.45,443.59 L490.95,439.19 Z" fill="#0000e6"/>
<path d="M508.52,436.98 L513.52,436.98 L511.02,432.58 Z" fill="#0000e6"/>
<path d="M528.60,409.42 L533.60,409.42 L531.10,405.02 Z" fill="#0000e6"/>
<path d="M548.67,444.56 L553.67,444.56 L551.17,440.16 Z" fill="#0000e6"/>
<path d="M568.75,405.47 L573.75,405.47 L571.25,401.07 Z" fill="#0000e6"/>
<path d="M588.82,443.59 L593.82,443.59 L591.32,439.19 Z" fill="#0000e6"/>
<path d="M49.30,445.39 L69.38,440.30 L89.45,413.28 L109.52,423.41 L129.60,448.37 L149.68,439.60 L169.75,449.19 L189.82,436.19 L209.90,413.45 L229.97,422.65 L250.05,427.74 L270.12,437.38 L290.20,440.09 L310.27,447.99 L330.35,423.52 L350.43,444.58 L370.50,437.11 L390.57,387.62 L410.65,415.29 L430.73,397.20 L450.80,438.57 L470.88,429.69 L490.95,445.18 L511.02,420.43 L531.10,404.30 L551.17,421.41 L571.25,415.13 L591.32,443.28" fill="none" stroke="#ff00ff" stroke-width="1.9" stroke-linejoin="round"/>
<circle cx="49.30" cy="445.39" r="2.8" fill="#ff00ff"/>
<circle cx="69.38" cy="440.30" r="2.8" fill="#ff00ff"/>
<circle cx="89.45" cy="413.28" r="2.8" fill="#ff00ff"/>
<circle cx="109.52" cy="423.41" r="2.8" fill="#ff00ff"/>
<circle cx="129.60" cy="448.37" r="2.8" fill="#ff00ff"/>
<circle cx="149.68" cy="439.60" r="2.8" fill="#ff00ff"/>
<circle cx="169.75" cy="449.19" r="2.8" fill="#ff00ff"/>
<circle cx="189.82" cy="436.19" r="2.8" fill="#ff00ff"/>
<circle cx="209.90" cy="413.45" r="2.8" fill="#ff00ff"/>
<circle cx="229.97" cy="422.65" r="2.8" fill="#ff00ff"/>
<circle cx="250.05" cy="427.74" r="2.8" fill="#ff00ff"/>
<circle cx="270.12" cy="437.38" r="2.8" fill="#ff00ff"/>
<circle cx="290.20" cy="440.09" r="2.8" fill="#ff00ff"/>
<circle cx="310.27" cy="447.99" r="2.8" fill="#ff00ff"/>
<circle cx="330.35" cy="423.52" r="2.8" fill="#ff00ff"/>
<circle cx="350.43" cy="444.58" r="2.8" fill="#ff00ff"/>
<circle cx="370.50" cy="437.11" r="2.8" fill="#ff00ff"/>
<circle cx="390.57" cy="387.62" r="2.8" fill="#ff00ff"/>
<circle cx="410.65" cy="415.29" r="2.8" fill="#ff00ff"/>
<circle cx="430.73" cy="397.20" r="2.8" fill="#ff00ff"/>
<circle cx="450.80" cy="438.57" r="2.8" fill="#ff00ff"/>
<circle cx="470.88" cy="429.69" r="2.8" fill="#ff00ff"/>
<circle cx="490.95" cy="445.18" r="2.8" fill="#ff00ff"/>
<circle cx="511.02" cy="420.43" r="2.8" fill="#ff00ff"/>
<circle cx="531.10" cy="404.30" r="2.8" fill="#ff00ff"/>
<circle cx="551.17" cy="421.41" r="2.8" fill="#ff00ff"/>
<circle cx="571.25" cy="415.13" r="2.8" fill="#ff00ff"/>
<circle cx="591.32" cy="443.28" r="2.8" fill="#ff00ff"/>
<rect x="49.4" y="45.6" width="541.50" height="108.3" fill="none" stroke="#383838" stroke-width="1.5"/>
<line x1="49.4" y1="126.82" x2="54.4" y2="126.82" stroke="#222" stroke-width="1.3"/>
<line x1="585.9" y1="126.82" x2="590.9" y2="126.82" stroke="#222" stroke-width="1.3"/>
<line x1="49.4" y1="99.75" x2="54.4" y2="99.75" stroke="#222" stroke-width="1.3"/>
<line x1="585.9" y1="99.75" x2="590.9" y2="99.75" stroke="#222" stroke-width="1.3"/>
<line x1="49.4" y1="72.67" x2="54.4" y2="72.67" stroke="#222" stroke-width="1.3"/>
<line x1="585.9" y1="72.67" x2="590.9" y2="72.67" stroke="#222" stroke-width="1.3"/>
<line x1="129.60" y1="45.6" x2="129.60" y2="50.6" stroke="#222" stroke-width="1.3"/>
<line x1="129.60" y1="148.9" x2="129.60" y2="153.9" stroke="#222" stroke-width="1.3"/>
<line x1="229.97" y1="45.6" x2="229.97" y2="50.6" stroke="#222" stroke-width="1.3"/>
<line x1="229.97" y1="148.9" x2="229.97" y2="153.9" stroke="#222" stroke-width="1.3"/>
<line x1="330.35" y1="45.6" x2="330.35" y2="50.6" stroke="#222" stroke-width="1.3"/>
<line x1="330.35" y1="148.9" x2="330.35" y2="153.9" stroke="#222" stroke-width="1.3"/>
<line x1="430.73" y1="45.6" x2="430.73" y2="50.6" stroke="#222" stroke-width="1.3"/>
<line x1="430.73" y1="148.9" x2="430.73" y2="153.9" stroke="#222" stroke-width="1.3"/>
<line x1="531.10" y1="45.6" x2="531.10" y2="50.6" stroke="#222" stroke-width="1.3"/>
<line x1="531.10" y1="148.9" x2="531.10" y2="153.9" stroke="#222" stroke-width="1.3"/>
<text x="43" y="159.50" text-anchor="end" font-size="14">0</text>
<text x="43" y="132.42" text-anchor="end" font-size="14">0.5</text>
<text x="43" y="105.35" text-anchor="end" font-size="14">1</text>
<text x="43" y="78.27" text-anchor="end" font-size="14">1.5</text>
<text x="43" y="51.20" text-anchor="end" font-size="14">2</text>
<rect x="49.4" y="210.4" width="541.50" height="108.3" fill="none" stroke="#383838" stroke-width="1.5"/>
<line x1="49.4" y1="291.62" x2="54.4" y2="291.62" stroke="#222" stroke-width="1.3"/>
<line x1="585.9" y1="291.62" x2="590.9" y2="291.62" stroke="#222" stroke-width="1.3"/>
<line x1="49.4" y1="264.55" x2="54.4" y2="264.55" stroke="#222" stroke-width="1.3"/>
<line x1="585.9" y1="264.55" x2="590.9" y2="264.55" stroke="#222" stroke-width="1.3"/>
<line x1="49.4" y1="237.47" x2="54.4" y2="237.47" stroke="#222" stroke-width="1.3"/>
<line x1="585.9" y1="237.47" x2="590.9" y2="237.47" stroke="#222" stroke-width="1.3"/>
<line x1="129.60" y1="210.4" x2="129.60" y2="215.4" stroke="#222" stroke-width="1.3"/>
<line x1="129.60" y1="313.7" x2="129.60" y2="318.7" stroke="#222" stroke-width="1.3"/>
<line x1="229.97" y1="210.4" x2="229.97" y2="215.4" stroke="#222" stroke-width="1.3"/>
<line x1="229.97" y1="313.7" x2="229.97" y2="318.7" stroke="#222" stroke-width="1.3"/>
<line x1="330.35" y1="210.4" x2="330.35" y2="215.4" stroke="#222" stroke-width="1.3"/>
<line x1="330.35" y1="313.7" x2="330.35" y2="318.7" stroke="#222" stroke-width="1.3"/>
<line x1="430.73" y1="210.4" x2="430.73" y2="215.4" stroke="#222" stroke-width="1.3"/>
<line x1="430.73" y1="313.7" x2="430.73" y2="318.7" stroke="#222" stroke-width="1.3"/>
<line x1="531.10" y1="210.4" x2="531.10" y2="215.4" stroke="#222" stroke-width="1.3"/>
<line x1="531.10" y1="313.7" x2="531.10" y2="318.7" stroke="#222" stroke-width="1.3"/>
<text x="43" y="324.30" text-anchor="end" font-size="14">0</text>
<text x="43" y="297.23" text-anchor="end" font-size="14">0.5</text>
<text x="43" y="270.15" text-anchor="end" font-size="14">1</text>
<text x="43" y="243.07" text-anchor="end" font-size="14">1.5</text>
<text x="43" y="216.00" text-anchor="end" font-size="14">2</text>
<rect x="49.4" y="375.0" width="541.50" height="108.3" fill="none" stroke="#383838" stroke-width="1.5"/>
<line x1="49.4" y1="456.23" x2="54.4" y2="456.23" stroke="#222" stroke-width="1.3"/>
<line x1="585.9" y1="456.23" x2="590.9" y2="456.23" stroke="#222" stroke-width="1.3"/>
<line x1="49.4" y1="429.15" x2="54.4" y2="429.15" stroke="#222" stroke-width="1.3"/>
<line x1="585.9" y1="429.15" x2="590.9" y2="429.15" stroke="#222" stroke-width="1.3"/>
<line x1="49.4" y1="402.07" x2="54.4" y2="402.07" stroke="#222" stroke-width="1.3"/>
<line x1="585.9" y1="402.07" x2="590.9" y2="402.07" stroke="#222" stroke-width="1.3"/>
<line x1="129.60" y1="375.0" x2="129.60" y2="380.0" stroke="#222" stroke-width="1.3"/>
<line x1="129.60" y1="478.3" x2="129.60" y2="483.3" stroke="#222" stroke-width="1.3"/>
<line x1="229.97" y1="375.0" x2="229.97" y2="380.0" stroke="#222" stroke-width="1.3"/>
<line x1="229.97" y1="478.3" x2="229.97" y2="483.3" stroke="#222" stroke-width="1.3"/>
<line x1="330.35" y1="375.0" x2="330.35" y2="380.0" stroke="#222" stroke-width="1.3"/>
<line x1="330.35" y1="478.3" x2="330.35" y2="483.3" stroke="#222" stroke-width="1.3"/>
<line x1="430.73" y1="375.0" x2="430.73" y2="380.0" stroke="#222" stroke-width="1.3"/>
<line x1="430.73" y1="478.3" x2="430.73" y2="483.3" stroke="#222" stroke-width="1.3"/>
<line x1="531.10" y1="375.0" x2="531.10" y2="380.0" stroke="#222" stroke-width="1.3"/>
<line x1="531.10" y1="478.3" x2="531.10" y2="483.3" stroke="#222" stroke-width="1.3"/>
<text x="43" y="488.90" text-anchor="end" font-size="14">0</text>
<text x="43" y="461.83" text-anchor="end" font-size="14">0.5</text>
<text x="43" y="434.75" text-anchor="end" font-size="14">1</text>
<text x="43" y="407.68" text-anchor="end" font-size="14">1.5</text>
<text x="43" y="380.60" text-anchor="end" font-size="14">2</text>
<line x1="189.2" y1="6.1" x2="231.9" y2="6.1" stroke="#f00000" stroke-width="1.5"/><circle cx="210.55" cy="6.1" r="2.6" fill="#f00000"/>
<line x1="189.2" y1="21.6" x2="231.9" y2="21.6" stroke="#f00000" stroke-width="1.5" stroke-dasharray="2.5,1.9"/><path d="M208.05,23.10 L213.05,23.10 L210.55,18.60 Z" fill="#f00000"/>
<line x1="320.9" y1="6.3" x2="363.9" y2="6.3" stroke="#0000e6" stroke-width="1.5"/><circle cx="342.4" cy="6.3" r="2.6" fill="#0000e6"/>
<line x1="320.9" y1="21.5" x2="363.9" y2="21.5" stroke="#0000e6" stroke-width="1.5" stroke-dasharray="2.5,1.9"/><path d="M339.90,23.00 L344.90,23.00 L342.40,18.50 Z" fill="#0000e6"/>
<line x1="462.2" y1="6.1" x2="504.6" y2="6.1" stroke="#000000" stroke-width="1.5"/><circle cx="483.4" cy="6.1" r="2.6" fill="#000000"/>
<line x1="462.2" y1="21.2" x2="504.6" y2="21.2" stroke="#ff00ff" stroke-width="1.5"/><circle cx="483.4" cy="21.2" r="2.6" fill="#ff00ff"/>
<g fill="#111" stroke="#111" stroke-width="0.3"><text x="60.9" y="62.7" font-size="14" textLength="21.9" lengthAdjust="spacingAndGlyphs">VSV</text>
<text x="84.3" y="67.7" font-size="11.5" textLength="12.8" lengthAdjust="spacingAndGlyphs">80</text>
<text x="100.5" y="62.7" font-size="14" textLength="12.5" lengthAdjust="spacingAndGlyphs">vs</text>
<text x="117.3" y="62.7" font-size="14" textLength="21.9" lengthAdjust="spacingAndGlyphs">VSV</text>
<text x="141.5" y="67.7" font-size="11.5" textLength="12.8" lengthAdjust="spacingAndGlyphs">90</text>
<text x="158" y="62.7" font-size="14" textLength="80.4" lengthAdjust="spacingAndGlyphs">(Experiment)</text>
<text x="57.6" y="227.0" font-size="14" textLength="22.7" lengthAdjust="spacingAndGlyphs">VSV</text>
<text x="81.8" y="232.0" font-size="11.5" textLength="12.5" lengthAdjust="spacingAndGlyphs">80</text>
<text x="98.8" y="227.0" font-size="14" textLength="122.3" lengthAdjust="spacingAndGlyphs">Experiment vs ROM</text>
<text x="57.6" y="391.6" font-size="14" textLength="22.7" lengthAdjust="spacingAndGlyphs">VSV</text>
<text x="81.8" y="396.6" font-size="11.5" textLength="12.5" lengthAdjust="spacingAndGlyphs">90</text>
<text x="98.8" y="391.6" font-size="14" textLength="122.3" lengthAdjust="spacingAndGlyphs">Experiment vs ROM</text>
<text x="23.2" y="29.5" font-size="16" textLength="19.6" lengthAdjust="spacingAndGlyphs">(a)</text>
<text x="24" y="195.5" font-size="16" textLength="18.4" lengthAdjust="spacingAndGlyphs">(b)</text>
<text x="24" y="360.5" font-size="16" textLength="17.6" lengthAdjust="spacingAndGlyphs">(c)</text>
<text x="125.1" y="9.8" font-size="13" textLength="44.2" lengthAdjust="spacingAndGlyphs">SG VSV</text><text x="169.9" y="14.8" font-size="11" textLength="12.1" lengthAdjust="spacingAndGlyphs">80</text>
<text x="119.4" y="25.2" font-size="13" textLength="49.9" lengthAdjust="spacingAndGlyphs">BTT VSV</text><text x="169.9" y="30.2" font-size="11" textLength="12.1" lengthAdjust="spacingAndGlyphs">80</text>
<text x="258.1" y="9.8" font-size="13" textLength="43.2" lengthAdjust="spacingAndGlyphs">SG VSV</text><text x="303" y="14.8" font-size="11" textLength="12.7" lengthAdjust="spacingAndGlyphs">90</text>
<text x="252.5" y="25.2" font-size="13" textLength="48.8" lengthAdjust="spacingAndGlyphs">BTT VSV</text><text x="303" y="30.2" font-size="11" textLength="12.7" lengthAdjust="spacingAndGlyphs">90</text>
<text x="383.8" y="9.8" font-size="13" textLength="57.9" lengthAdjust="spacingAndGlyphs">ROM VSV</text><text x="442.9" y="14.8" font-size="11" textLength="12.4" lengthAdjust="spacingAndGlyphs">80</text>
<text x="383.8" y="25.2" font-size="13" textLength="57.9" lengthAdjust="spacingAndGlyphs">ROM VSV</text><text x="442.9" y="30.2" font-size="11" textLength="12.4" lengthAdjust="spacingAndGlyphs">90</text>
<text x="129.6" y="500.5" font-size="14" text-anchor="middle">5</text>
<text x="229.97" y="500.5" font-size="14" text-anchor="middle">10</text>
<text x="330.35" y="500.5" font-size="14" text-anchor="middle">15</text>
<text x="430.73" y="500.5" font-size="14" text-anchor="middle">20</text>
<text x="531.1" y="500.5" font-size="14" text-anchor="middle">25</text>
<text x="248.1" y="523.4" font-size="14" textLength="144.5" lengthAdjust="spacingAndGlyphs">Rotor Blade Number [-]</text>
<text transform="translate(9.3,343.5) rotate(-90)" x="0" y="0" font-size="14" textLength="156.5" lengthAdjust="spacingAndGlyphs">Normalised Amplitude [-]</text></g>
</svg></body></html>
